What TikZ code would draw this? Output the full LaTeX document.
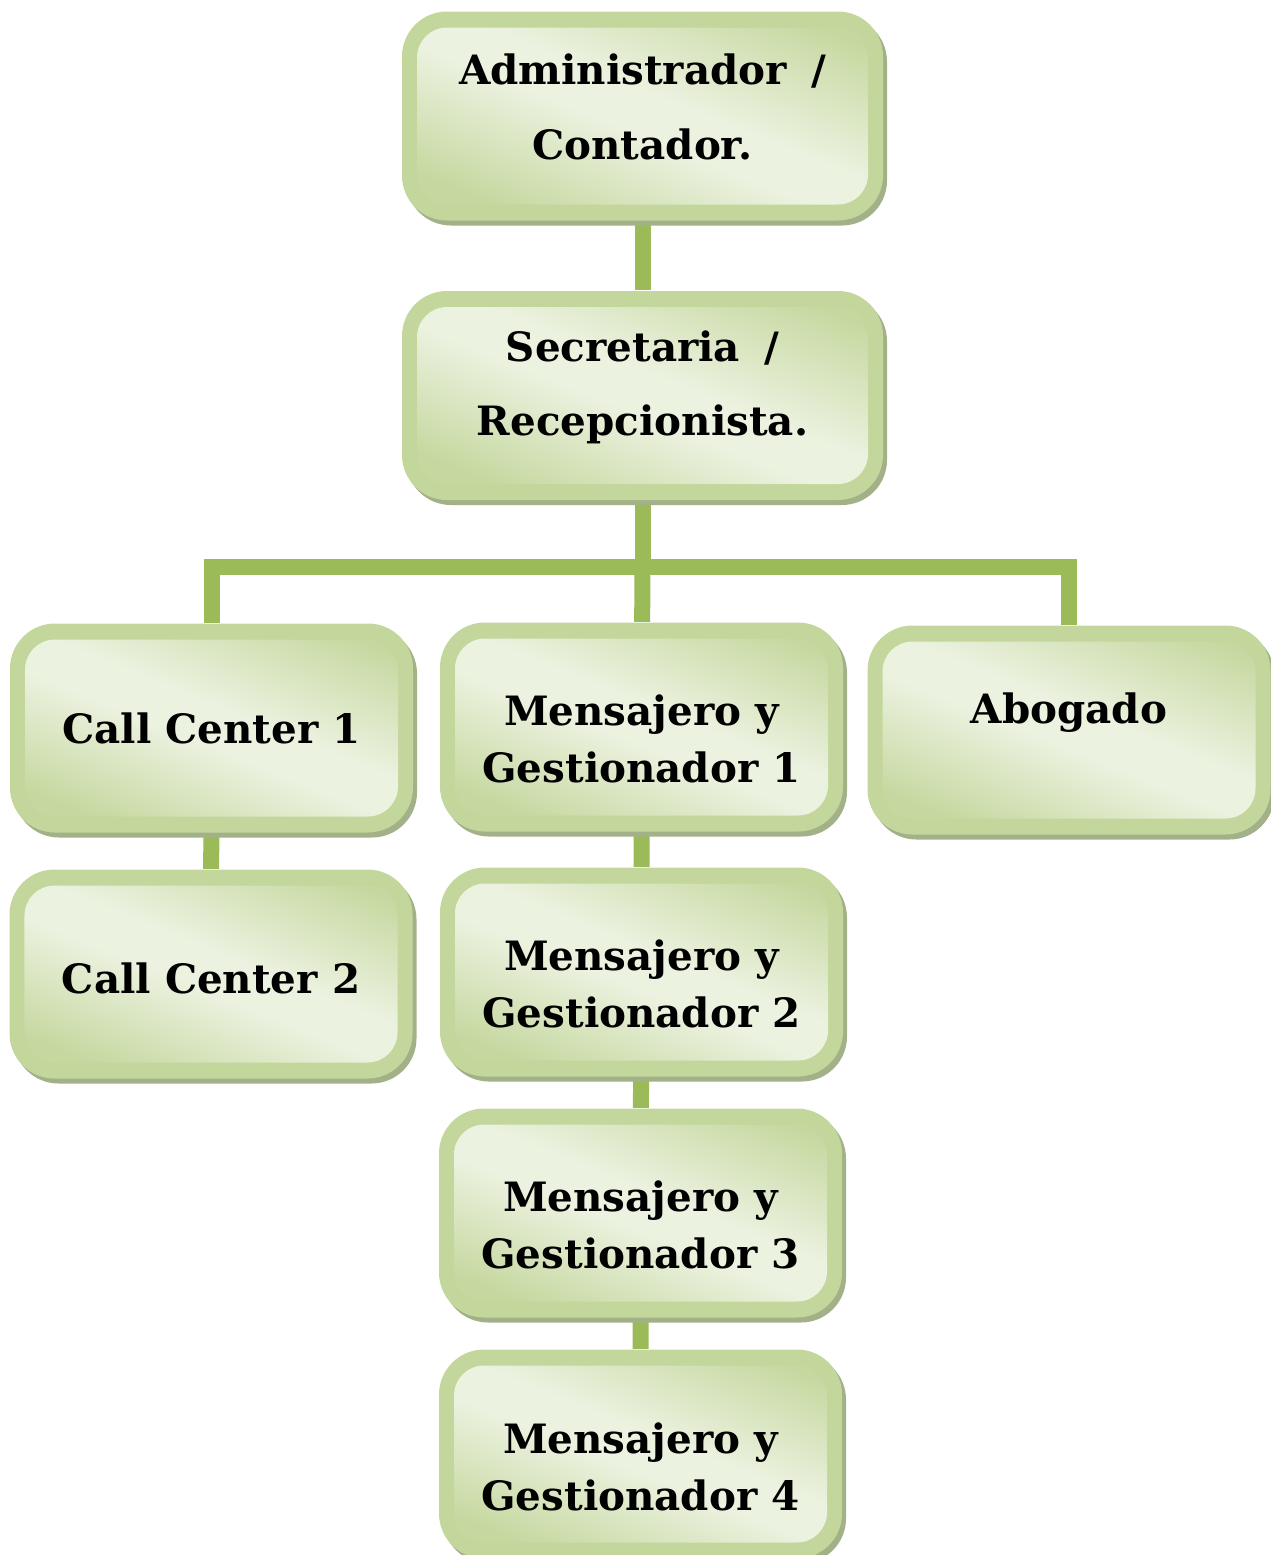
\documentclass[tikz,border=0pt]{standalone}
\usepackage{fontspec}
\setmainfont{DejaVu Serif}
\usetikzlibrary{calc,backgrounds}

\definecolor{borde}{RGB}{195,214,155}
\definecolor{sombra}{RGB}{163,177,136}
\definecolor{claro}{RGB}{236,242,224}
\definecolor{oscuro}{RGB}{198,216,160}
\definecolor{linea}{RGB}{155,187,89}

\pgfdeclareverticalshading{cajabrillo}{100bp}{color(0bp)=(oscuro); color(26bp)=(oscuro); color(47bp)=(claro);
  color(54bp)=(claro); color(76bp)=(oscuro); color(100bp)=(oscuro)}

\tikzset{
  caja/.style={rounded corners=0.45cm, fill=borde, minimum width=#1, minimum height=2.09cm, inner sep=0pt,
    preaction={fill=sombra, transform canvas={xshift=0.04cm, yshift=-0.05cm}},
    path picture={\shade[shading=cajabrillo, shading angle=-22, rounded corners=0.3cm]
      ($(path picture bounding box.south west)+(0.15,0.16)$) rectangle ($(path picture bounding box.north east)+(-0.15,-0.16)$);}},
  caja/.default=4.03cm,
  texto/.style={font=\fontsize{11.5}{16.2}\selectfont\bfseries, align=center, inner sep=0pt},
  conector/.style={draw=linea, line width=0.16cm}
}

\begin{document}
\begin{tikzpicture}
    \useasboundingbox (0,0) rectangle (12.71,-15.55);

    \node[caja=4.81cm] (admin) at (6.425,-1.16) {};
    \node[caja=4.81cm] (secre) at (6.425,-3.955) {};
    \node[caja] (call1) at (2.115,-7.28) {};
    \node[caja] (mens1) at (6.415,-7.27) {};
    \node[caja] (abog) at (10.69,-7.30) {};
    \node[caja] (call2) at (2.11,-9.74) {};
    \node[caja] (mens2) at (6.415,-9.72) {};
    \node[caja] (mens3) at (6.405,-12.13) {};
    \node[caja] (mens4) at (6.405,-14.54) {};

    \node[texto] (admin-t) at ($(admin)+(0,0.09)$) {Administrador\hspace{0.25em} /\\[5pt] Contador.};
    \node[texto] (secre-t) at ($(secre)+(0,0.08)$) {Secretaria\hspace{0.25em} /\\[5pt] Recepcionista.};
    \node[texto] (call1-t) at (call1) {Call Center 1};
    \node[texto] (mens1-t) at ($(mens1)+(0,-0.12)$) {Mensajero y\\Gestionador 1};
    \node[texto] (abog-t) at ($(abog)+(0,0.17)$) {Abogado};
    \node[texto] (call2-t) at ($(call2)+(0,-0.04)$) {Call Center 2};
    \node[texto] (mens2-t) at ($(mens2)+(0,-0.12)$) {Mensajero y\\Gestionador 2};
    \node[texto] (mens3-t) at ($(mens3)+(0,-0.12)$) {Mensajero y\\Gestionador 3};
    \node[texto] (mens4-t) at ($(mens4)+(0,-0.13)$) {Mensajero y\\Gestionador 4};

    \begin{scope}[on background layer]
        \coordinate (barra) at (6.425,-5.67);
        \draw[conector] (admin) -- (secre) -- (barra);
        \draw[conector] (call1) |- (barra) -| (abog);
        \draw[conector] (barra) -- (mens1) -- (mens2) -- (mens3) -- (mens4);
        \draw[conector] (call1) -- (call2);
    \end{scope}
\end{tikzpicture}
\end{document}
